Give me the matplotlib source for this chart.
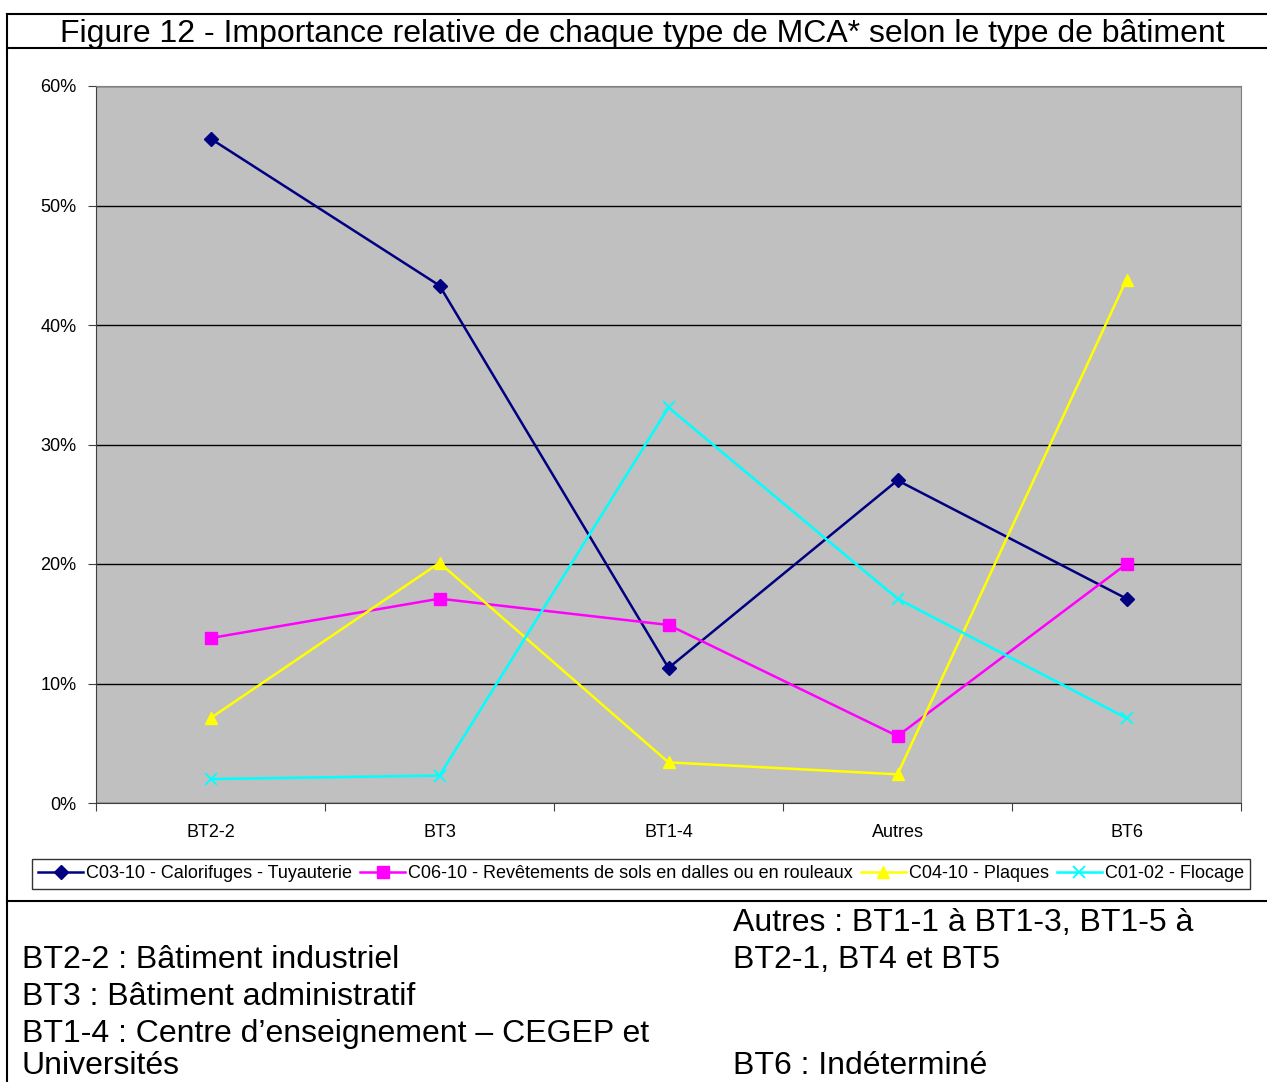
import numpy as np
import matplotlib
matplotlib.use("Agg")
import matplotlib.pyplot as plt
from matplotlib.lines import Line2D
from matplotlib.ticker import FuncFormatter, FixedLocator

plt.rcParams['font.family'] = ['Liberation Sans', 'DejaVu Sans']

# Data
categories = ['BT2-2', 'BT3', 'BT1-4', 'Autres', 'BT6']
calorifuges = [55.6, 43.3, 11.3, 27.0, 17.1]
revetements = [13.8, 17.1, 14.9, 5.6, 20.0]
plaques = [7.1, 20.1, 3.4, 2.4, 43.8]
flocage = [2.0, 2.3, 33.1, 17.1, 7.1]

series_labels = ['C03-10 - Calorifuges - Tuyauterie',
                 'C06-10 - Revêtements de sols en dalles ou en rouleaux',
                 'C04-10 - Plaques',
                 'C01-02 - Flocage']

W, H = 1267, 1082
fig = plt.figure(figsize=(W / 100, H / 100), dpi=100)

# axes placed in pixel coordinates of the reference
left, right, top, bottom = 96, 1241, 86, 803
ax = fig.add_axes([left / W, 1 - bottom / H, (right - left) / W, (bottom - top) / H])
ax.set_facecolor('#c0c0c0')

x = np.arange(len(categories))
ax.plot(x, calorifuges, color='#000080', lw=1.8, marker='D', ms=7, label=series_labels[0])
ax.plot(x, revetements, color='#ff00ff', lw=1.8, marker='s', ms=8, label=series_labels[1])
ax.plot(x, plaques, color='#ffff00', lw=1.8, marker='^', ms=9, label=series_labels[2])
ax.plot(x, flocage, color='#00ffff', lw=1.8, marker='x', ms=9, mew=1.3, label=series_labels[3])

ax.set_xlim(-0.5, len(categories) - 0.5)
ax.set_ylim(0, 60)
ax.set_yticks(np.arange(0, 61, 10))
ax.yaxis.set_major_formatter(FuncFormatter(lambda v, p: f'{int(v)}%'))
ax.yaxis.grid(True, color='black', lw=1)
ax.set_axisbelow(True)

ax.xaxis.set_major_locator(FixedLocator(np.arange(-0.5, len(categories), 1)))
ax.xaxis.set_major_formatter(FuncFormatter(lambda v, p: ''))
ax.set_xticks(x, minor=True)
ax.set_xticklabels(categories, minor=True)
ax.tick_params(axis='x', which='minor', length=0, labelsize=13, pad=15)
ax.tick_params(axis='x', which='major', length=6, color='#404040')
ax.tick_params(axis='y', length=6, labelsize=13, pad=8, color='#404040')

for s in ['top', 'right']:
    ax.spines[s].set_color('#808080')
for s in ['left', 'bottom']:
    ax.spines[s].set_color('#404040')

leg = fig.legend(loc='center', bbox_to_anchor=(641 / W, 1 - 874 / H), ncol=4,
                 fontsize=13, frameon=True, fancybox=False, edgecolor='black',
                 handlelength=2.5, handletextpad=0.15, columnspacing=0.45,
                 borderpad=0.35, borderaxespad=0)
leg.get_frame().set_linewidth(1.0)

# title and frame
fig.text(642 / W, 1 - 34 / H, 'Figure 12 - Importance relative de chaque type de MCA* selon le type de bâtiment',
         ha='center', va='center', fontsize=23)

def hline(y, x0=7, x1=W):
    fig.add_artist(Line2D([x0 / W, x1 / W], [1 - y / H, 1 - y / H], color='black', lw=1.5))

hline(14)
hline(48)
hline(901)
fig.add_artist(Line2D([7 / W, 7 / W], [1 - 14 / H, 0], color='black', lw=1.5))

# notes below the chart
notes_left = ['BT2-2 : Bâtiment industriel', 'BT3 : Bâtiment administratif',
              'BT1-4 : Centre d’enseignement – CEGEP et']
notes_right = ['Autres : BT1-1 à BT1-3, BT1-5 à', 'BT2-1, BT4 et BT5']
last_left = 'Universités'
note_bt6 = 'BT6 : Indéterminé'

for i, t in enumerate(notes_left):
    fig.text(22 / W, 1 - (960 + 37 * i) / H, t, ha='left', va='center', fontsize=23)
for i, t in enumerate(notes_right):
    fig.text(733 / W, 1 - (923 + 37 * i) / H, t, ha='left', va='center', fontsize=23)
fig.text(22 / W, 1 - 1081 / H, last_left, ha='left', va='bottom', fontsize=23)
fig.text(733 / W, 1 - 1081 / H, note_bt6, ha='left', va='bottom', fontsize=23)

fig.savefig('out.png', dpi=100)
